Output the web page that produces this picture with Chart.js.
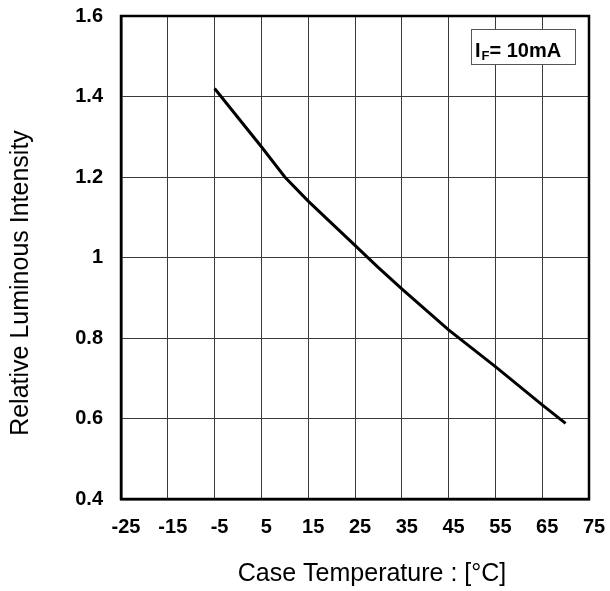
<!DOCTYPE html>
<html><head><meta charset="utf-8">
<script src="https://cdn.jsdelivr.net/npm/chart.js@4"></script>
<style>html,body{margin:0;padding:0;background:#fff;overflow:hidden}</style>
</head><body>
<canvas id="c" width="610" height="591"></canvas>
<script>
// ---- data ----
const temperatures = [-5, 5, 10, 15, 25, 30, 35, 45, 55, 65, 70];
const intensities = [1.42, 1.275, 1.2, 1.14, 1.03, 0.975, 0.922, 0.82, 0.729, 0.634, 0.588];
const xTicks = [-25, -15, -5, 5, 15, 25, 35, 45, 55, 65, 75];
const yTicks = [0.4, 0.6, 0.8, 1, 1.2, 1.4, 1.6];
const xTitle = 'Case Temperature : [°C]';
const yTitle = 'Relative Luminous Intensity';
const legendMain = 'I';
const legendSub = 'F';
const legendRest = '= 10mA';

const FONT = '"Liberation Sans", Arial, sans-serif';

const decorPlugin = {
  id: 'decor',
  afterDraw(chart) {
    const ctx = chart.ctx;
    const a = chart.chartArea;
    ctx.save();
    // full plot frame
    ctx.strokeStyle = '#000';
    ctx.lineWidth = 2.5;
    ctx.strokeRect(a.left, a.top, a.right - a.left, a.bottom - a.top);
    // legend box
    ctx.fillStyle = '#fff';
    ctx.fillRect(471, 29, 105, 36);
    ctx.strokeStyle = '#555';
    ctx.lineWidth = 1;
    ctx.strokeRect(471.5, 29.5, 104, 35);
    ctx.fillStyle = '#000';
    ctx.textBaseline = 'alphabetic';
    ctx.textAlign = 'left';
    ctx.font = 'bold 20px ' + FONT;
    ctx.fillText(legendMain, 475, 57);
    let x = 475 + ctx.measureText(legendMain).width + 1;
    ctx.font = 'bold 13px ' + FONT;
    ctx.fillText(legendSub, x, 60);
    x += ctx.measureText(legendSub).width;
    ctx.font = 'bold 20px ' + FONT;
    ctx.fillText(legendRest, x, 57);
    // axis titles
    ctx.font = '25px ' + FONT;
    ctx.textAlign = 'center';
    ctx.textBaseline = 'middle';
    ctx.fillText(xTitle, 372, 574);
    ctx.translate(21, 283);
    ctx.rotate(-Math.PI / 2);
    ctx.fillText(yTitle, 0, 0);
    ctx.restore();
  }
};

new Chart(document.getElementById('c'), {
  type: 'scatter',
  data: {
    datasets: [{
      data: temperatures.map((t, i) => ({ x: t, y: intensities[i] })),
      showLine: true,
      borderColor: '#000',
      borderWidth: 3,
      pointRadius: 0,
      tension: 0,
      fill: false
    }]
  },
  options: {
    responsive: false,
    animation: false,
    devicePixelRatio: 1,
    layout: { padding: { top: 16, right: 21, left: 0, bottom: 0 } },
    plugins: { legend: { display: false }, tooltip: { enabled: false } },
    scales: {
      x: {
        type: 'linear',
        min: -25, max: 75,
        afterBuildTicks: s => { s.ticks = xTicks.map(v => ({ value: v })); },
        afterFit: s => { s.height = 92; s.paddingLeft = 0; s.paddingRight = 0; },
        grid: { color: '#3a3a3a', lineWidth: 1, drawTicks: false },
        border: { display: true, color: '#000', width: 2.5 },
        ticks: {
          font: { family: FONT, size: 20, weight: 'bold' },
          color: '#000', padding: 16, maxRotation: 0, autoSkip: false,
          labelOffset: 5
        }
      },
      y: {
        type: 'linear',
        min: 0.4, max: 1.6,
        afterBuildTicks: s => { s.ticks = yTicks.map(v => ({ value: v })); },
        afterFit: s => { s.width = 121; s.paddingTop = 0; s.paddingBottom = 0; },
        grid: { color: '#3a3a3a', lineWidth: 1, drawTicks: false },
        border: { display: true, color: '#000', width: 2.5 },
        ticks: {
          font: { family: FONT, size: 20, weight: 'bold' },
          color: '#000', padding: 18,
          callback: v => String(v)
        }
      }
    }
  },
  plugins: [decorPlugin]
});
</script>
</body></html>
